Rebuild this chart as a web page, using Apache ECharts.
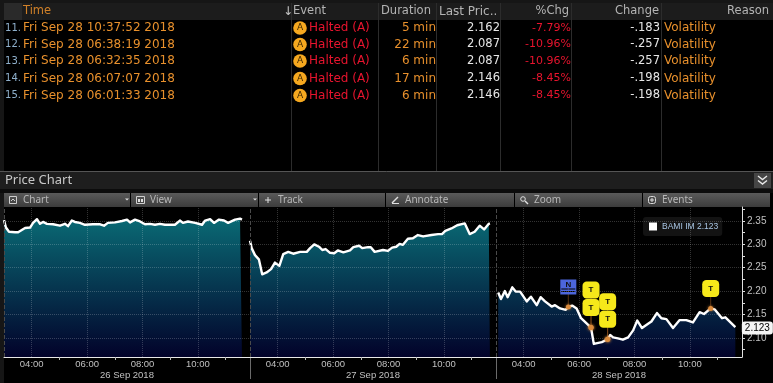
<!DOCTYPE html>
<html>
<head>
<meta charset="utf-8">
<style>html,body{margin:0;padding:0;background:#000}#c{width:773px;height:383px}</style>
<script src="https://cdn.jsdelivr.net/npm/echarts@6/dist/echarts.min.js"></script>
</head>
<body>
<div id="c"></div>
<script>
// ---------- table content ----------
const rowNumbers = ['11.', '12.', '13.', '14.', '15.'];
const rowTimes = ['Fri Sep 28 10:37:52 2018', 'Fri Sep 28 06:38:19 2018', 'Fri Sep 28 06:32:35 2018', 'Fri Sep 28 06:07:07 2018', 'Fri Sep 28 06:01:33 2018'];
const rowEvents = ['Halted (A)', 'Halted (A)', 'Halted (A)', 'Halted (A)', 'Halted (A)'];
const rowDurations = ['5 min', '22 min', '6 min', '17 min', '6 min'];
const rowLastPrices = ['2.162', '2.087', '2.087', '2.146', '2.146'];
const rowPctChanges = ['-7.79%', '-10.96%', '-10.96%', '-8.45%', '-8.45%'];
const rowChanges = ['-.183', '-.257', '-.257', '-.198', '-.198'];
const rowReasons = ['Volatility', 'Volatility', 'Volatility', 'Volatility', 'Volatility'];
const toolbarLabels = ['Chart', 'View', 'Track', 'Annotate', 'Zoom', 'Events'];

// ---------- price series (hours of the session, price) ----------
const day1Hours = [3.00,3.07,3.18,3.25,3.40,3.51,3.58,3.76,3.94,4.05,4.19,4.30,4.41,4.55,4.77,5.02,5.20,5.31,5.45,5.56,5.74,5.92,6.21,6.47,6.61,6.75,7.01,7.26,7.44,7.55,7.73,7.91,8.09,8.27,8.45,8.63,8.81,9.17,9.35,9.46,9.64,9.90,10.15,10.26,10.44,10.58,10.76,10.94,11.09,11.34,11.52,11.59];
const day1Prices = [2.352,2.336,2.327,2.331,2.326,2.326,2.322,2.335,2.336,2.346,2.354,2.344,2.348,2.344,2.343,2.340,2.344,2.339,2.351,2.348,2.346,2.342,2.343,2.343,2.340,2.346,2.347,2.350,2.353,2.347,2.353,2.349,2.343,2.344,2.342,2.344,2.342,2.342,2.351,2.346,2.349,2.346,2.342,2.351,2.354,2.346,2.353,2.351,2.346,2.353,2.355,2.353];
const day2Hours = [3.00,3.06,3.18,3.32,3.44,3.60,3.76,3.90,4.06,4.20,4.38,4.56,4.81,5.05,5.17,5.32,5.49,5.61,5.73,5.89,6.04,6.17,6.37,6.61,6.73,6.94,7.05,7.26,7.36,7.50,7.80,7.98,8.13,8.28,8.40,8.52,8.70,8.88,9.06,9.25,9.55,9.79,9.93,10.05,10.27,10.48,10.75,10.93,11.11,11.29,11.45,11.62,11.66];
const day2Prices = [2.308,2.292,2.277,2.268,2.236,2.240,2.247,2.261,2.254,2.279,2.284,2.280,2.284,2.284,2.292,2.300,2.295,2.288,2.290,2.282,2.281,2.287,2.283,2.287,2.294,2.297,2.292,2.294,2.294,2.284,2.288,2.286,2.293,2.295,2.301,2.299,2.312,2.313,2.320,2.317,2.320,2.322,2.322,2.329,2.334,2.341,2.345,2.322,2.327,2.340,2.332,2.344,2.345];
const day3Hours = [3.08,3.18,3.32,3.42,3.59,3.71,3.87,4.11,4.26,4.47,4.61,4.77,5.01,5.13,5.31,5.52,5.61,5.75,5.91,6.07,6.27,6.43,6.53,6.82,7.03,7.12,7.23,7.40,7.58,7.77,7.95,8.10,8.27,8.49,8.61,8.81,8.97,9.15,9.39,9.63,9.87,10.11,10.35,10.51,10.75,10.89,11.16,11.28,11.64];
const day3Prices = [2.197,2.183,2.200,2.187,2.208,2.199,2.199,2.178,2.188,2.170,2.187,2.178,2.167,2.170,2.163,2.160,2.166,2.169,2.163,2.142,2.131,2.122,2.087,2.091,2.097,2.106,2.101,2.099,2.096,2.101,2.116,2.137,2.121,2.130,2.135,2.153,2.142,2.140,2.121,2.138,2.138,2.133,2.155,2.151,2.163,2.161,2.142,2.144,2.123];

// ---------- events on day 3 ----------
const eventHours = [5.61, 6.43, 6.43, 7.03, 7.03, 10.75];
const eventPrices = [2.166, 2.122, 2.122, 2.097, 2.097, 2.163];
const eventLabels = ['N', 'T', 'T', 'T', 'T', 'T'];
const eventStack = [0, 0, 1, 0, 1, 0];

// ---------- axes ----------
const seriesName = 'BAMI IM';
const lastPrice = 2.123;
const dayLabels = ['26 Sep 2018', '27 Sep 2018', '28 Sep 2018'];
const labelHours = [4, 6, 8, 10];
const tickHours = [5, 7, 9, 11];
const priceLabels = [2.10, 2.15, 2.20, 2.25, 2.30, 2.35];
const priceTicks = [2.075, 2.10, 2.125, 2.15, 2.175, 2.20, 2.225, 2.25, 2.275, 2.30, 2.325, 2.35, 2.375];

// ---------- styling ----------
const ORANGE = '#e8902c', RED = '#e8142e', WHITE = '#e6e6e6', HEAD = '#b4b4b4';
const UI = '"DejaVu Sans", sans-serif';
const AX = '"Liberation Sans", sans-serif';
const gridLefts = [4, 250, 496], gridW = 246, gridTop = 207, gridH = 150;
const rowY = [28, 44.5, 61, 78.5, 95.5];
const colSeps = [291, 378, 436, 500, 571, 661];

const g = [];
const rect = (x, y, w, h, fill, extra) => g.push(Object.assign({type: 'rect', shape: {x, y, width: w, height: h}, style: {fill}, silent: true}, extra || {}));
const txt = (s, x, y, fill, align, size, fam) => g.push({type: 'text', silent: true, x, y, style: {text: s, fill, font: (size || 12) + 'px ' + (fam || UI), align: align || 'left', textAlign: align || 'left', verticalAlign: 'middle', textVerticalAlign: 'middle'}});
const seg = (x1, y1, x2, y2, stroke, w) => g.push({type: 'line', silent: true, shape: {x1, y1, x2, y2}, style: {stroke, lineWidth: w || 1}});
const box = (x, y, w, h, stroke) => g.push({type: 'rect', silent: true, shape: {x, y, width: w, height: h}, style: {fill: 'none', stroke: stroke || '#d0d0d0', lineWidth: 1}});

// outer frame
rect(0, 0, 4, 383, '#161616');
rect(0, 0, 773, 3, '#161616');
// table header
rect(4, 3, 769, 17, '#1c1c1c');
rect(4, 3, 18, 17, '#2a2a2a');
txt('Time', 23, 11.5, '#d08028', 'left', 11.5);
txt('\u2193', 288, 11.5, '#c8c8c8', 'center', 12);
txt('Event', 293, 11.5, HEAD, 'left', 11.5);
txt('Duration', 381, 11.5, HEAD, 'left', 11.5);
txt('Last Pric..', 439, 11.5, HEAD, 'left', 12);
txt('%Chg', 569, 11.5, HEAD, 'right', 11.5);
txt('Change', 659, 11.5, HEAD, 'right', 11.5);
txt('Reason', 769, 11.5, HEAD, 'right', 11.5);
colSeps.forEach(x => seg(x + .5, 3, x + .5, 171, '#2c2c2c'));
// table rows
rowTimes.forEach((t, i) => {
  const y = rowY[i];
  txt(rowNumbers[i], 21, y, '#8fb0cc', 'right', 10);
  txt(t, 23, y, ORANGE);
  g.push({type: 'circle', silent: true, shape: {cx: 300, cy: y, r: 6.8}, style: {fill: '#f5a81f'}});
  txt('A', 300, y, '#3a2500', 'center', 9);
  txt(rowEvents[i], 309, y, RED);
  txt(rowDurations[i], 436, y, ORANGE, 'right');
  txt(rowLastPrices[i], 500, y, WHITE, 'right', 11.5);
  txt(rowPctChanges[i], 571, y, RED, 'right', 11);
  txt(rowChanges[i], 660, y, WHITE, 'right', 11.5);
  txt(rowReasons[i], 664, y, ORANGE);
});
// price chart bar
rect(0, 171, 773, 18, '#1e1e1e');
seg(0, 171.5, 773, 171.5, '#555');
txt('Price Chart', 5, 180, '#c8c8c8', 'left', 13, '"Noto Sans", sans-serif');
rect(754, 173, 17, 15, '#454545');
g.push({type: 'polyline', silent: true, shape: {points: [[758, 176], [762.5, 179.5], [767, 176]]}, style: {stroke: '#e8e8e8', fill: 'none', lineWidth: 1.4}});
g.push({type: 'polyline', silent: true, shape: {points: [[758, 180.5], [762.5, 184], [767, 180.5]]}, style: {stroke: '#e8e8e8', fill: 'none', lineWidth: 1.4}});
// toolbar
const tbX = [4, 131, 259, 386, 515, 643];
rect(0, 189, 773, 4, '#0c0c0c');
toolbarLabels.forEach((s, i) => {
  const x = tbX[i], w = (i < 5 ? tbX[i + 1] : 771) - x - 1;
  g.push({type: 'rect', silent: true, shape: {x, y: 193, width: w, height: 14}, style: {fill: {type: 'linear', x: 0, y: 0, x2: 0, y2: 1, colorStops: [{offset: 0, color: '#5a5a5a'}, {offset: 1, color: '#3c3c3c'}]}}});
  txt(s, x + 19, 200, '#b8b8b8', 'left', 10, '"Noto Sans", sans-serif');
  const ix = x + 5;
  if (i === 0) { box(ix + .5, 196.5, 7, 7); seg(ix + 2, 201, ix + 4, 199, '#d0d0d0'); seg(ix + 4, 199, ix + 6, 201, '#d0d0d0'); }
  if (i === 1) { box(ix + .5, 196.5, 8, 7); rect(ix + 2, 199, 2, 3, '#e0e0e0'); rect(ix + 5, 199, 2, 3, '#e0e0e0'); }
  if (i === 2) { seg(ix + 1, 200, ix + 7, 200, '#e0e0e0'); seg(ix + 4, 197, ix + 4, 203, '#e0e0e0'); }
  if (i === 3) { seg(ix + 1, 203, ix + 7, 197, '#e0e0e0', 1.4); seg(ix + 1, 203.5, ix + 8, 203.5, '#e0e0e0'); }
  if (i === 4) { g.push({type: 'circle', silent: true, shape: {cx: ix + 3, cy: 199, r: 2.3}, style: {fill: 'none', stroke: '#e0e0e0'}}); seg(ix + 5, 201, ix + 8, 204, '#e0e0e0', 1.4); }
  if (i === 5) { g.push({type: 'rect', silent: true, shape: {x: ix + .5, y: 196.5, width: 7, height: 7, r: 2}, style: {fill: 'none', stroke: '#d8d8d8'}}); seg(ix + 2, 200, ix + 6, 200, '#e0e0e0'); seg(ix + 4, 198, ix + 4, 202, '#e0e0e0'); }
  if (i < 2) g.push({type: 'polygon', silent: true, shape: {points: [[x + w - 5, 198.5], [x + w - 1, 198.5], [x + w - 3, 200.5]]}, style: {fill: '#ddd'}});
});
// session separators under the axis
gridLefts.slice(1).forEach(x => seg(x + .5, 357, x + .5, 379, '#6a6a6a', 1));

const areaFill = {type: 'linear', global: true, x: 0, y: 215, x2: 0, y2: 357, colorStops: [{offset: 0, color: '#0a6c76'}, {offset: 1, color: '#02022a'}]};
const gridLine = {color: 'rgba(255,255,255,0.2)', type: 'dotted', width: 1};

const zip = (a, b) => a.map((v, i) => [v, b[i]]);
const days = [[day1Hours, day1Prices], [day2Hours, day2Prices], [day3Hours, day3Prices]];

const series = days.map((d, i) => ({
  type: 'line', name: i === 2 ? seriesName : 'session ' + (i + 1), xAxisIndex: i, yAxisIndex: i,
  data: zip(d[0], d[1]), symbol: 'none', showSymbol: false, animation: false, clip: false,
  lineStyle: {color: '#fff', width: 2.4, join: 'round'}, itemStyle: {color: '#fff'},
  areaStyle: {color: areaFill, opacity: 1, origin: 'start'}, z: 3,
  markLine: {silent: true, symbol: 'none', animation: false, label: {show: false}, lineStyle: gridLine, z: 4,
    data: priceLabels.map(v => ({yAxis: v})).concat(labelHours.map(h => ({xAxis: h})))
      .concat([{xAxis: 3, lineStyle: {color: '#4a4a4a', type: 'dashed', width: 1}}])},
  markPoint: i === 2 ? {silent: true, animation: false, symbol: 'rect', symbolSize: 0.01,
    data: [{coord: [d[0][d[0].length - 1], lastPrice], value: lastPrice.toFixed(3)}],
    label: {show: true, position: 'inside', offset: [22, 1], color: '#000', backgroundColor: '#f4f4f4', borderRadius: 3, padding: [2, 3, 1, 3], fontFamily: AX, fontSize: 10, formatter: p => p.value}} : undefined
}));

// stems, dots and marker boxes of the events
const levelOffset = k => 20 + 17.5 * k;
series.push({
  type: 'scatter', name: 'stems', xAxisIndex: 2, yAxisIndex: 2, animation: false, silent: true, z: 5,
  data: eventHours.map((h, i) => ({value: [h, eventPrices[i]], symbol: 'rect', symbolSize: [1, levelOffset(eventStack[i])], symbolOffset: [0, -levelOffset(eventStack[i]) / 2]})),
  itemStyle: {color: 'rgba(190,110,40,0.45)', opacity: 1}
});
series.push({
  type: 'scatter', name: 'events', xAxisIndex: 2, yAxisIndex: 2, animation: false, silent: true, z: 6,
  data: eventHours.map((h, i) => [h, eventPrices[i]]), symbol: 'circle', symbolSize: 5,
  itemStyle: {color: '#d98a3c', opacity: 1, shadowColor: 'rgba(240,150,60,.8)', shadowBlur: 3}
});
series.push({
  type: 'scatter', name: 'markers', xAxisIndex: 2, yAxisIndex: 2, animation: false, silent: true, z: 7,
  data: eventHours.map((h, i) => {
    const isNews = eventLabels[i] === 'N';
    return {
      value: [h, eventPrices[i]],
      symbol: isNews ? 'path://M0 0H16V15H0Z M1 9V10H15V9Z M1 11.5V12.5H15V11.5Z' : 'roundRect',
      symbolSize: isNews ? [16, 15] : 17,
      symbolOffset: [0, -levelOffset(eventStack[i])],
      itemStyle: {color: isNews ? '#4c66dc' : '#f6e81a', opacity: 1},
      label: {show: true, position: 'inside', formatter: eventLabels[i], offset: [0, isNews ? -2 : 0], color: '#111', fontFamily: AX, fontWeight: 'bold', fontSize: 8}
    };
  })
});

const chart = echarts.init(document.getElementById('c'), null, {renderer: 'canvas'});
chart.setOption({
  animation: false,
  backgroundColor: '#000',
  graphic: g,
  legend: {
    show: true, data: [{name: seriesName, icon: 'rect', itemStyle: {color: '#fff'}}],
    left: 643, top: 217, itemWidth: 8, itemHeight: 8, itemGap: 4, padding: [5, 4, 5, 6], backgroundColor: '#131313', borderRadius: 3,
    selectedMode: false, formatter: n => n + ' ' + lastPrice.toFixed(3),
    textStyle: {color: '#a9c6e4', fontFamily: AX, fontSize: 8.5, padding: [0, 0, 0, 0]}
  },
  grid: gridLefts.map(left => ({left, top: gridTop, width: gridW, height: gridH, containLabel: false})),
  xAxis: dayLabels.map((name, i) => ({
    type: 'value', gridIndex: i, min: 3, max: 11.88, interval: 1, name, nameLocation: 'middle', nameGap: 13,
    nameTextStyle: {color: '#c0c0c0', fontFamily: AX, fontSize: 9.5, verticalAlign: 'top'},
    splitLine: {show: false},
    axisLine: {show: true, lineStyle: {color: '#e8e8e8', width: 1}},
    axisTick: {show: true, customValues: tickHours, length: 3, lineStyle: {color: '#bbb'}},
    axisLabel: {show: true, customValues: labelHours, color: '#c0c0c0', fontFamily: AX, fontSize: 9.5, margin: 2, hideOverlap: false,
      formatter: v => String(v).padStart(2, '0') + ':00'}
  })),
  yAxis: dayLabels.map((_, i) => ({
    type: 'value', gridIndex: i, min: 2.059, max: 2.38, position: 'right', show: i === 2, scale: true,
    splitLine: {show: false},
    axisLine: {show: true, lineStyle: {color: '#e0e0e0', width: 1}},
    axisTick: {show: true, customValues: priceTicks, length: 3, lineStyle: {color: '#ddd'}},
    axisLabel: {show: true, customValues: priceLabels, color: '#c0c0c0', fontFamily: AX, fontSize: 10, margin: 5, formatter: v => v.toFixed(2)}
  })),
  series
});
</script>
</body>
</html>
